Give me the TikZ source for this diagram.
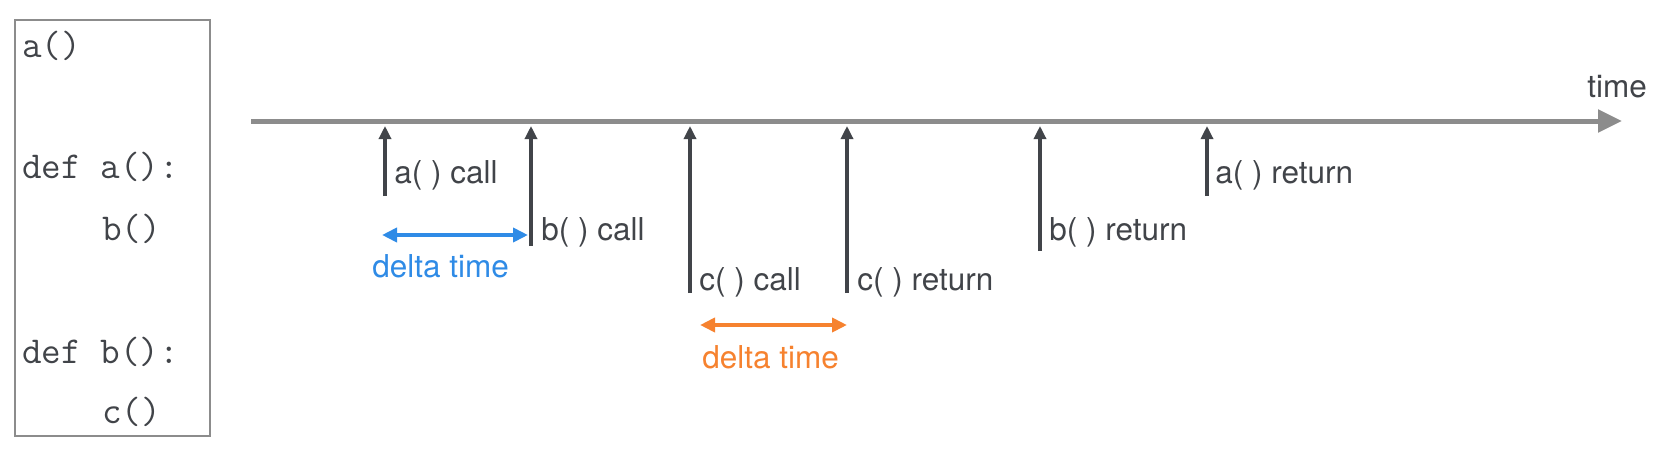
\documentclass[tikz,border=0pt]{standalone}
\usepackage{fontspec}
\setmainfont{TeX Gyre Heros}
\definecolor{axisgray}{HTML}{8C8C8C}
\definecolor{evdark}{HTML}{414449}
\definecolor{deltablue}{HTML}{2F8BE6}
\definecolor{deltaorange}{HTML}{F6822F}
\tikzstyle{codeline}=[anchor=base west,inner sep=0pt,text=evdark,
font=\ttfamily\fontsize{19pt}{22pt}\selectfont]
\tikzstyle{evlabel}=[anchor=base west,inner sep=0pt,text=evdark,
font=\fontsize{15.75pt}{18pt}\selectfont]
\tikzstyle{event}=[draw=evdark,line width=1.6pt,-{Triangle[length=6.5pt,width=6pt]}]
\tikzstyle{delta}=[line width=2pt,{Triangle[length=7.5pt,width=7pt]}-{Triangle[length=7.5pt,width=7pt]}]
\usetikzlibrary{arrows.meta,positioning}

\begin{document}
\begin{tikzpicture}[x=0.5pt,y=-0.5pt]
            \useasboundingbox (0,0) rectangle (1671,471);

            % CODE PART

            \draw[axisgray,line width=1pt] (15,20) rectangle (210,436);
            \node[codeline] (l1) at (22,57)  {a()};
            \node[codeline] (l2) at (22,178) {def a():};
            \node[codeline] (l3) at (102,240) {b()};
            \node[codeline] (l4) at (22,363) {def b():};
            \node[codeline] (l5) at (102,423) {c()};

            % TIME AXIS

            \coordinate (t0) at (251,121);
            \coordinate (t1) at (1622,121);
            \coordinate (tip) at (0,126);
            \draw[axisgray,line width=2.5pt,-{Triangle[length=12pt,width=11pt]}] (t0) -- (t1);
            \node[evlabel] (time) at (1587,97) {time};

            % EVENTS

            \coordinate (acall) at (385,196);
            \coordinate (bcall) at (531,246);
            \coordinate (ccall) at (690,293);
            \coordinate (cret)  at (847,293);
            \coordinate (bret)  at (1040,251);
            \coordinate (aret)  at (1207,196);

            \node[evlabel] (acalltxt) at (394,183)  {a( ) call};
            \node[evlabel] (bcalltxt) at (541,240)  {b( ) call};
            \node[evlabel] (ccalltxt) at (699,290)  {c( ) call};
            \node[evlabel] (crettxt)  at (857,290)  {c( ) return};
            \node[evlabel] (brettxt)  at (1049,240) {b( ) return};
            \node[evlabel] (arettxt)  at (1215,183) {a( ) return};

            \draw[event] (acall) -- (acall |- tip);
            \draw[event] (bcall) -- (bcall |- tip);
            \draw[event] (ccall) -- (ccall |- tip);
            \draw[event] (cret)  -- (cret |- tip);
            \draw[event] (bret)  -- (bret |- tip);
            \draw[event] (aret)  -- (aret |- tip);

            % DELTA TIMES

            \coordinate (d1a) at (382,235);
            \coordinate (d1b) at (528,235);
            \coordinate (d2a) at (700,325);
            \coordinate (d2b) at (847,325);

            \draw[delta,deltablue] (d1a) -- (d1b);
            \node[evlabel,text=deltablue] (d1txt) at (372,277) {delta time};
            \draw[delta,deltaorange] (d2a) -- (d2b);
            \node[evlabel,text=deltaorange] (d2txt) at (702,368) {delta time};

        \end{tikzpicture}
\end{document}
